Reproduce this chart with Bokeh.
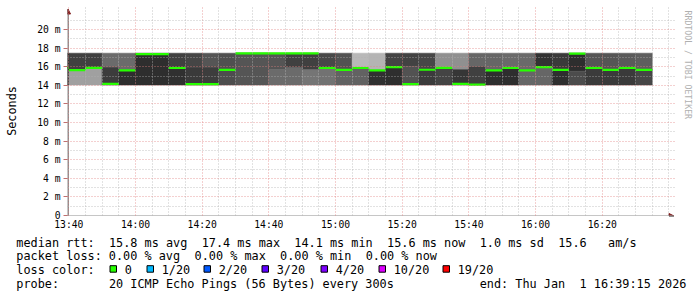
import re
import math
from datetime import datetime, timedelta

from bokeh.plotting import figure
from bokeh.layouts import column, row
from bokeh.models import (ColumnDataSource, FixedTicker, DatetimeTickFormatter,
                          Arrow, NormalHead, Range1d)
from bokeh.core.properties import value
from bokeh.embed import file_html
from bokeh.resources import INLINE

# ---------------- data ----------------
DAY = "2026-01-01"
bin_start = ["13:35", "13:40", "13:45", "13:50", "13:55", "14:00", "14:05", "14:10",
             "14:15", "14:20", "14:25", "14:30", "14:35", "14:40", "14:45", "14:50",
             "14:55", "15:00", "15:05", "15:10", "15:15", "15:20", "15:25", "15:30",
             "15:35", "15:40", "15:45", "15:50", "15:55", "16:00", "16:05", "16:10",
             "16:15", "16:20", "16:25", "16:30"]
# median rtt per 5-minute step (ms)
median_ms = [15.90, 15.63, 15.88, 14.15, 15.60, 17.35, 17.35, 15.86,
             14.12, 14.12, 15.65, 17.43, 17.43, 17.43, 17.43, 17.43,
             15.86, 15.65, 15.86, 15.60, 15.96, 14.12, 15.67, 15.87,
             14.15, 14.07, 15.60, 15.86, 15.60, 15.96, 15.65, 17.40,
             15.86, 15.65, 15.86, 15.65]
# value where the smoke changes shade (ms)
smoke_split_ms = [15.90, 15.63, 15.88, 15.95, 15.60, 17.35, 17.35, 15.86,
                  15.95, 15.95, 15.65, 17.43, 17.43, 15.70, 15.90, 15.67,
                  15.86, 15.65, 15.86, 15.60, 15.96, 16.05, 15.67, 15.87,
                  15.68, 15.97, 15.60, 15.86, 15.60, 15.96, 15.65, 15.52,
                  15.86, 15.65, 15.86, 15.65]
# smoke density shade (grey level) above and below the split
smoke_upper_grey = [0x40, 0x40, 0x40, 0x6b, 0x6b, 0x2e, 0x2e, 0x40,
                    0x45, 0x55, 0x50, 0x55, 0x55, 0x55, 0x40, 0x40,
                    0x48, 0x52, 0xb8, 0xb4, 0x44, 0x42, 0x47, 0x90,
                    0x90, 0x66, 0x66, 0x6a, 0x6a, 0x33, 0x3a, 0x2e,
                    0x55, 0x55, 0x5a, 0x5e]
smoke_lower_grey = [0x3a, 0xa0, 0xa0, 0x3c, 0x2e, 0x2e, 0x2e, 0x30,
                    0x3a, 0x3d, 0x4d, 0x55, 0x55, 0x6b, 0x6b, 0x75,
                    0x72, 0x62, 0x62, 0x30, 0x2e, 0x52, 0x3b, 0x44,
                    0x36, 0x40, 0x2e, 0x2e, 0x66, 0x66, 0x2e, 0x4c,
                    0x3b, 0x3a, 0x3a, 0x46]
SMOKE_MAX_MS = 17.45
SMOKE_MIN_MS = 14.03

y_ticks = [0, 2, 4, 6, 8, 10, 12, 14, 16, 18, 20]
y_tick_labels = ["0", "2 m", "4 m", "6 m", "8 m", "10 m", "12 m", "14 m", "16 m", "18 m", "20 m"]
y_minor = [1, 3, 5, 7, 9, 11, 13, 15, 17, 19, 21]
x_ticks = ["13:40", "14:00", "14:20", "14:40", "15:00", "15:20", "15:40", "16:00", "16:20"]
x_minor = ["13:45", "13:50", "13:55", "14:05", "14:10", "14:15", "14:25", "14:30", "14:35",
           "14:45", "14:50", "14:55", "15:05", "15:10", "15:15", "15:25", "15:30", "15:35",
           "15:45", "15:50", "15:55", "16:05", "16:10", "16:15", "16:25", "16:30", "16:35",
           "16:40"]

legend_lines = [
    "median rtt:  15.8 ms avg  17.4 ms max  14.1 ms min  15.6 ms now  1.0 ms sd  15.6   am/s",
    "packet loss: 0.00 % avg  0.00 % max  0.00 % min  0.00 % now",
    "loss color:",
    "probe:       20 ICMP Echo Pings (56 Bytes) every 300s            end: Thu Jan  1 16:39:15 2026",
]
loss_labels = ["0", "1/20", "2/20", "3/20", "4/20", "10/20", "19/20"]
loss_colors = ["#26ff00", "#00b8ff", "#0059ff", "#5e00ff", "#7e00ff", "#dd00ff", "#ff0000"]
watermark = "RRDTOOL / TOBI OETIKER"

# ---------------- layout constants ----------------
W, H = 697, 297
TOP_H = 232            # height of the graph part
STRIP_W = 22           # right strip holding the rrdtool credit
FL, FR, FT, FB = 67, W - STRIP_W, 6, 215
PX_PER_MS = 9.3
PX_PER_MIN = 3.334
X_FIRST_TICK_PX = 68.3
MONO = "DejaVu Sans Mono"
CW = 7.13
TEXT_X0 = 15.8
BASELINES = [242.2, 255.8, 269.4, 283.0]
SQUARE_X = [109.5, 146.5, 203.5, 261.5, 320.5, 378.5, 442.5]
SQUARE_TOP = 265.2
AXIS_C = "#1f1f1f"
ARROW_C = "#801f1f"

EPOCH = datetime(1970, 1, 1)


def t(hm):
    return datetime.strptime(f"{DAY} {hm}", "%Y-%m-%d %H:%M")


def ms(dt):
    return (dt - EPOCH).total_seconds() * 1000.0


x0_ms = ms(t(x_ticks[0])) - (X_FIRST_TICK_PX - FL) / PX_PER_MIN * 60000
x1_ms = x0_ms + (FR - FL) / PX_PER_MIN * 60000
y1 = (FB - FT) / PX_PER_MS


def px_x(px):
    return x0_ms + (px - FL) / PX_PER_MIN * 60000


def px_y(py):
    return (FB - py) / PX_PER_MS


STEP = timedelta(minutes=5)
left = [ms(t(s)) for s in bin_start]
right = [ms(t(s) + STEP) for s in bin_start]


def grey(v):
    return "#%02x%02x%02x" % (v, v, v)


src = ColumnDataSource(dict(
    left=left, right=right,
    top=[SMOKE_MAX_MS] * len(left), bottom=[SMOKE_MIN_MS] * len(left),
    split=smoke_split_ms, median=median_ms,
    ucol=[grey(v) for v in smoke_upper_grey],
    lcol=[grey(v) for v in smoke_lower_grey],
))

# ---------------- graph ----------------
p = figure(width=FR, height=TOP_H, x_axis_type="datetime", title=None,
           x_range=Range1d(x0_ms, x1_ms), y_range=Range1d(0, y1),
           output_backend="svg", toolbar_location=None,
           min_border_left=FL, min_border_right=0,
           min_border_top=FT, min_border_bottom=TOP_H - FB,
           background_fill_color="white", border_fill_color="white",
           outline_line_color=None)

p.quad(left="left", right="right", bottom="split", top="top", source=src,
       fill_color="ucol", line_color="ucol", line_width=0.6)
p.quad(left="left", right="right", bottom="bottom", top="split", source=src,
       fill_color="lcol", line_color="lcol", line_width=0.6)
p.segment(x0="left", y0="median", x1="right", y1="median", source=src,
          line_color="#26ff00", line_width=2.2)

p.yaxis.ticker = FixedTicker(ticks=y_ticks, minor_ticks=y_minor)
p.yaxis.major_label_overrides = {v: s for v, s in zip(y_ticks, y_tick_labels)}
p.xaxis.ticker = FixedTicker(ticks=[ms(t(s)) for s in x_ticks],
                             minor_ticks=[ms(t(s)) for s in x_minor])
fmt = "%H:%M"
p.xaxis.formatter = DatetimeTickFormatter(minutes=fmt, hourmin=fmt, hours=fmt,
                                          minsec=fmt, seconds=fmt, days=fmt)
for ax in (p.xaxis[0], p.yaxis[0]):
    ax.axis_line_color = None
    ax.minor_tick_line_color = None
    ax.minor_tick_out = 0
    ax.minor_tick_in = 0
    ax.major_label_text_font = MONO
    ax.major_label_text_font_size = "9.7px"
    ax.major_label_text_color = "#000000"
p.yaxis.major_tick_out = 4
p.yaxis.major_tick_in = 0
p.yaxis.major_tick_line_color = "#c07070"
p.yaxis.major_label_standoff = 3
p.xaxis.major_tick_line_color = None
p.xaxis.major_tick_out = 0
p.xaxis.major_tick_in = 0
p.xaxis.major_label_standoff = 3
p.yaxis.axis_label = "Seconds"
p.yaxis.axis_label_text_font = MONO
p.yaxis.axis_label_text_font_size = "11.8px"
p.yaxis.axis_label_text_font_style = "normal"
p.yaxis.axis_label_text_color = "#000000"
p.yaxis.axis_label_standoff = 15

for g in (p.xgrid[0], p.ygrid[0]):
    g.level = "overlay"
    g.grid_line_color = "#e08080"
    g.grid_line_alpha = 0.75
    g.grid_line_dash = "1 2"
    g.minor_grid_line_color = "#b0b0b0"
    g.minor_grid_line_alpha = 0.75
    g.minor_grid_line_dash = "1 2"

p.add_layout(Arrow(end=NormalHead(size=5, fill_color=ARROW_C, line_color=ARROW_C),
                   x_start=px_x(FL + 0.5), y_start=px_y(219), x_end=px_x(FL + 0.5), y_end=px_y(8.5),
                   line_color=AXIS_C, line_width=1))
p.add_layout(Arrow(end=NormalHead(size=5, fill_color=ARROW_C, line_color=ARROW_C),
                   x_start=px_x(62), y_start=px_y(FB + 0.5), x_end=px_x(673.5), y_end=px_y(FB + 0.5),
                   line_color=AXIS_C, line_width=1))


def blank(width, height):
    f = figure(width=width, height=height, title=None,
               x_range=Range1d(0, width), y_range=Range1d(0, height),
               output_backend="svg", toolbar_location=None,
               min_border=0, min_border_left=0, min_border_right=0,
               min_border_top=0, min_border_bottom=0,
               x_axis_location=None, y_axis_location=None,
               background_fill_color="white", border_fill_color="white",
               outline_line_color=None)
    f.grid.visible = False
    return f


# ---------------- right strip: rrdtool credit ----------------
s = blank(STRIP_W, TOP_H)
s.text(x=[687.3 - FR], y=[TOP_H - 4.5], text=[watermark], angle=-math.pi / 2,
       text_font=value(MONO), text_font_size=value("8.2px"), text_color="#b0b0b0",
       text_align="left", text_baseline="middle")

# ---------------- legend block ----------------
LH = H - TOP_H
lg = blank(W, LH)
tx, ty, tt = [], [], []
for i, line in enumerate(legend_lines):
    for m in re.finditer(r"\S+(?: \S+)*", line):
        tx.append(TEXT_X0 + m.start() * CW)
        ty.append(LH - (BASELINES[i] - TOP_H))
        tt.append(m.group(0))
for sx, lbl in zip(SQUARE_X, loss_labels):
    tx.append(sx + 14.7)
    ty.append(LH - (BASELINES[2] - TOP_H))
    tt.append(lbl)
lg.text(x=tx, y=ty, text=tt, text_font=value(MONO), text_font_size=value("11.84px"),
        text_color="#000000", text_align="left", text_baseline="alphabetic")
sq_top = LH - (SQUARE_TOP - TOP_H)
lg.quad(left=SQUARE_X, right=[x + 6.5 for x in SQUARE_X],
        top=[sq_top] * len(SQUARE_X), bottom=[sq_top - 6.5] * len(SQUARE_X),
        fill_color=loss_colors, line_color="#000000", line_width=1)

layout = column(row(p, s, spacing=0), lg, spacing=0)
open("out.html", "w").write(file_html(layout, INLINE))
